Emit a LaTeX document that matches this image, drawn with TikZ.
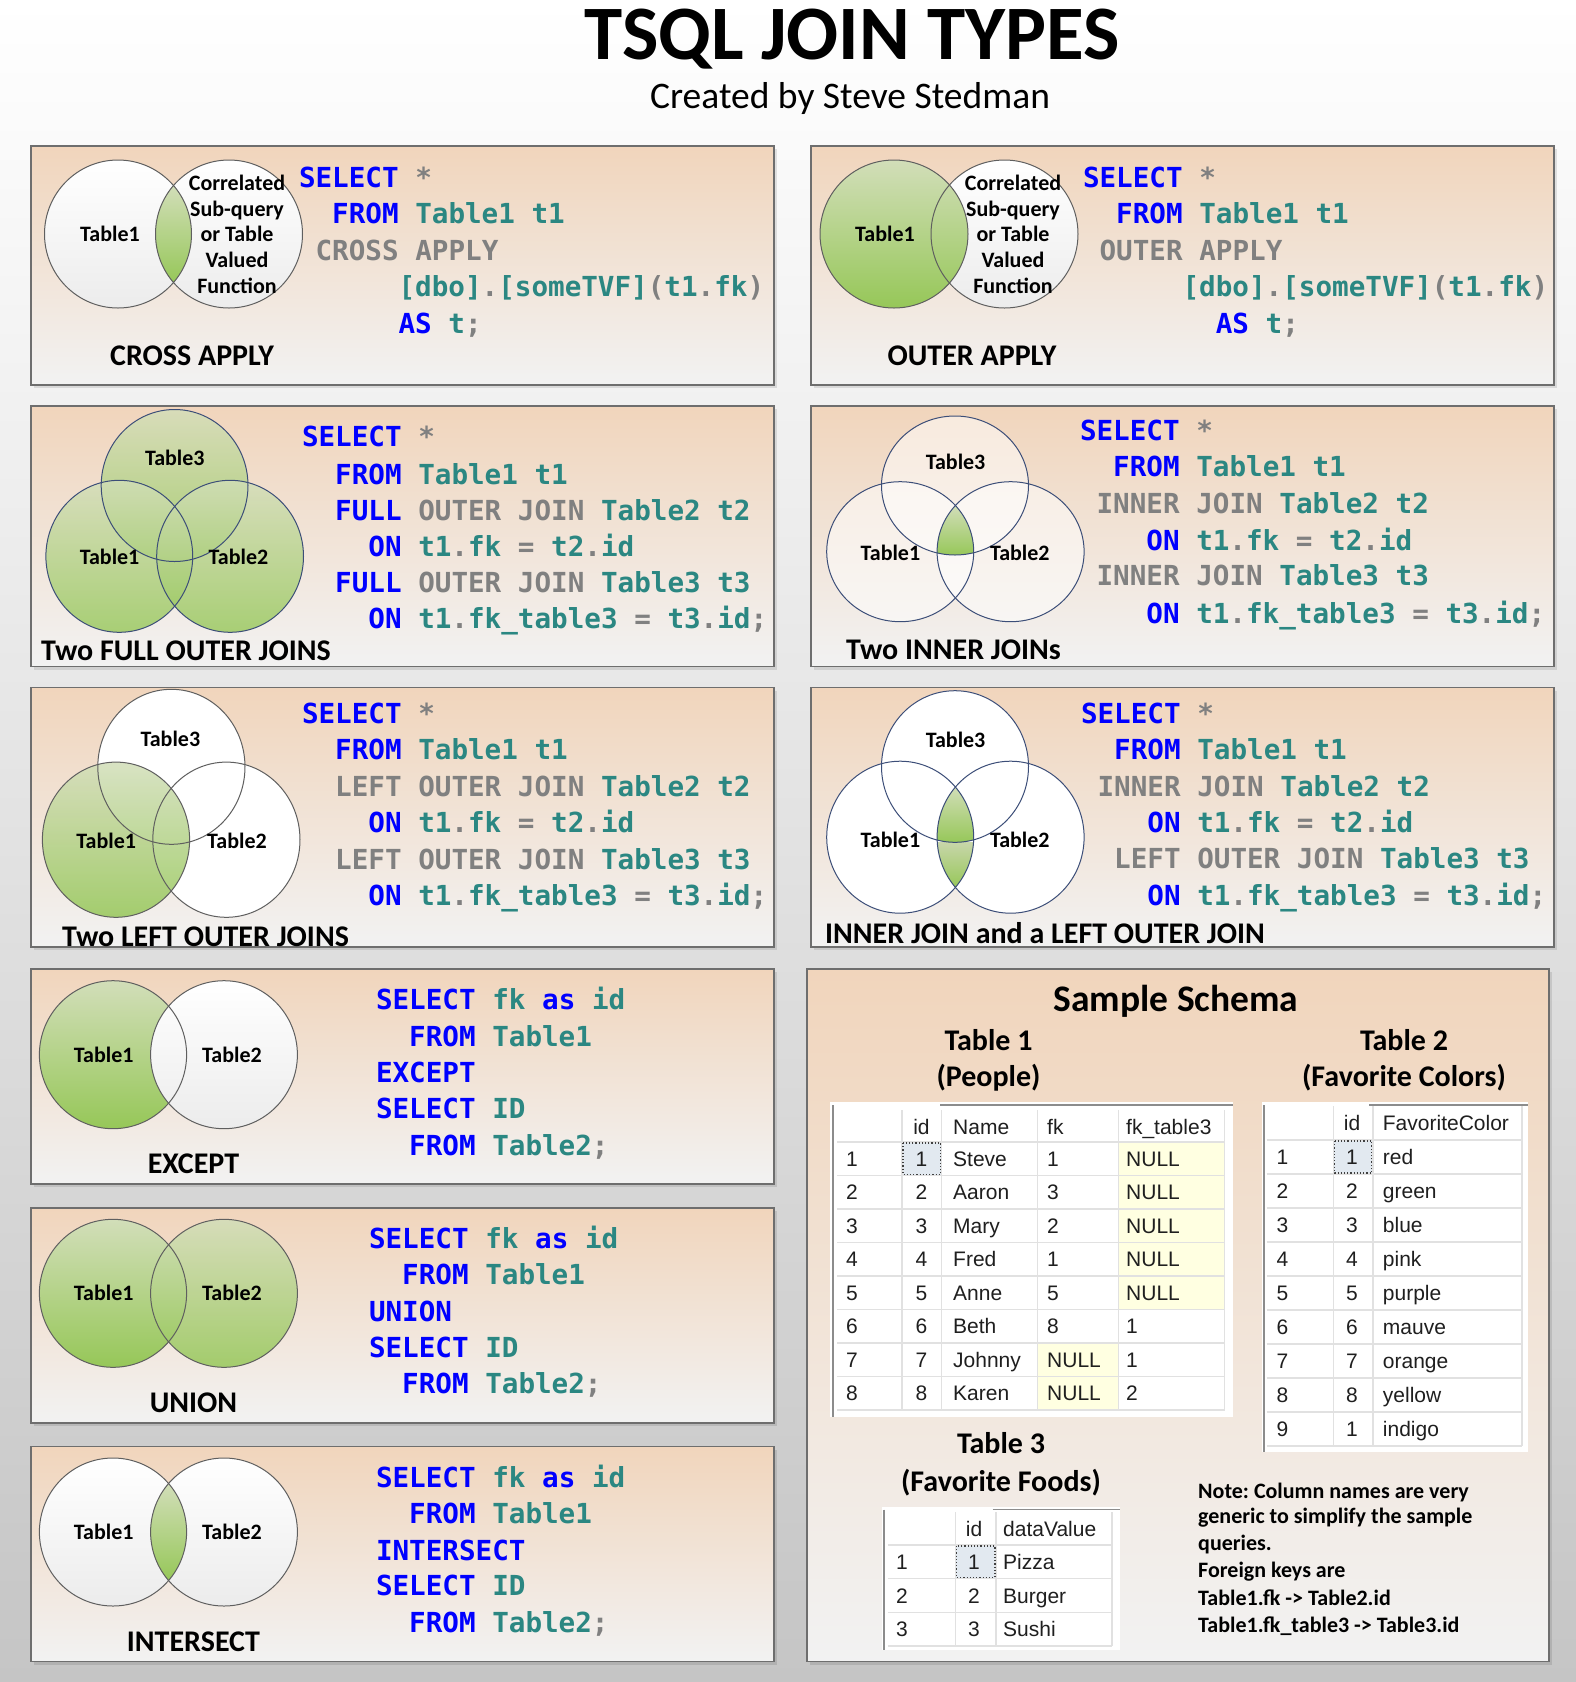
\documentclass[tikz,border=0pt]{standalone}
\usepackage{fontspec}
\setmainfont{Carlito}
\newfontfamily\codefont{DejaVu Sans Mono}
\newfontfamily\gridfont{Liberation Sans}
\frenchspacing
\definecolor{kwblue}{RGB}{0,0,255}
\definecolor{tealc}{RGB}{43,135,130}
\definecolor{grayc}{RGB}{128,128,128}
\definecolor{peach}{RGB}{241,213,188}
\definecolor{panelbot}{RGB}{242,242,242}
\definecolor{pborder}{RGB}{110,110,110}
\definecolor{gtop}{RGB}{210,222,185}
\definecolor{gbot}{RGB}{150,199,88}
\definecolor{gmid}{RGB}{200,214,170}
\definecolor{wbot}{RGB}{236,236,236}
\definecolor{navy}{RGB}{60,78,120}
\definecolor{ringgray}{RGB}{95,95,95}
\definecolor{gridline}{RGB}{225,225,225}
\definecolor{nullyel}{RGB}{255,255,225}
\definecolor{selcell}{RGB}{226,233,240}
\definecolor{bgmid}{RGB}{234,234,234}
\definecolor{bgbot}{RGB}{197,197,197}
\newcommand\kw[1]{\textcolor{kwblue}{#1}}
\newcommand\tb[1]{\textcolor{tealc}{#1}}
\newcommand\gr[1]{\textcolor{grayc}{#1}}
\newcommand\cw{16.6}
\newcommand\codeln[5]{\node[codeline] (#1) at ({#2+#4*\cw},{#3+10}) {#5};}
\newcommand\panelbox[4]{%
  \fill[black,opacity=0.10] (#1+3,#2+3) rectangle (#3+3,#4+3);
  \shade[top color=peach,bottom color=panelbot] (#1,#2) rectangle (#3,#4);
  \draw[pborder,line width=1.3pt] (#1,#2) rectangle (#3,#4);}
\tikzset{
  codeline/.style={anchor=base west, inner sep=0pt, outer sep=0pt, font=\codefont\bfseries\fontsize{27.6}{30}\selectfont},
  vlabel/.style={anchor=base, inner sep=0pt, font=\bfseries\fontsize{22}{24}\selectfont},
  plabel/.style={anchor=base, inner sep=0pt, font=\bfseries\fontsize{30}{32}\selectfont},
  note/.style={anchor=base west, inner sep=0pt, font=\bfseries\fontsize{22}{24}\selectfont},
  gcell/.style={anchor=base west, inner sep=0pt, font=\gridfont\fontsize{21}{23}\selectfont, text=black!88},
  gcellc/.style={gcell, anchor=base},
  greenfill/.style={top color=gtop, bottom color=gbot},
  whitefill/.style={top color=white, bottom color=wbot},
  ring/.style={draw=ringgray, line width=1pt},
  navyring/.style={draw=navy, line width=1pt},
  gline/.style={draw=gridline, line width=1.5pt},
  gedge/.style={draw=black!45, line width=1.8pt},
}
\begin{document}
\begin{tikzpicture}[x=1pt,y=-1pt]
\useasboundingbox (0,0) rectangle (1576,1682);
\shade[top color=white, middle color=bgmid, bottom color=bgbot] (0,0) rectangle (1576,1682);

% title
\node[anchor=base, inner sep=0pt, font=\bfseries\fontsize{77}{80}\selectfont] (title) at (852,59) {TSQL JOIN TYPES};
\node[anchor=base, inner sep=0pt, font=\fontsize{37.5}{40}\selectfont] (subtitle) at (850,108) {Created by Steve Stedman};

% ---------- panel 1 : CROSS APPLY
\panelbox{31}{146}{774}{385}
\shade[whitefill] (118,234) ellipse [x radius=73.5, y radius=74];
\shade[whitefill] (229,234) ellipse [x radius=73.5, y radius=74];
\begin{scope}
  \clip (118,234) ellipse [x radius=73.5, y radius=74];
  \clip (229,234) ellipse [x radius=73.5, y radius=74];
  \shade[greenfill] (140,185) rectangle (210,283);
\end{scope}
\draw[ring] (118,234) ellipse [x radius=73.5, y radius=74];
\draw[ring] (229,234) ellipse [x radius=73.5, y radius=74];
\node[vlabel] (p1t1) at (110,241.1) {Table1};
\node[vlabel] (p1s1) at (237,190.1) {Correlated};
\node[vlabel] (p1s2) at (237,216.1) {Sub-query};
\node[vlabel] (p1s3) at (237,241.6) {or Table};
\node[vlabel] (p1s4) at (237,267.3) {Valued};
\node[vlabel] (p1s5) at (237,293.1) {Function};
\node[plabel] (p1lab) at (192,365.7) {CROSS APPLY};
\codeln{p1c1}{299}{177}{0}{\kw{SELECT} \gr{*}}
\codeln{p1c2}{299}{213.3}{2}{\kw{FROM} \tb{Table1 t1}}
\codeln{p1c3}{299}{250}{1}{\gr{CROSS APPLY}}
\codeln{p1c4}{299}{286.7}{6}{\tb{[dbo]}\gr{.}\tb{[someTVF]}\gr{(}\tb{t1}\gr{.}\tb{fk}\gr{)}}
\codeln{p1c5}{299}{323.3}{6}{\kw{AS} \tb{t}\gr{;}}

% ---------- panel 2 : OUTER APPLY
\panelbox{811}{146}{1554}{385}
\shade[whitefill] (1004.5,234) ellipse [x radius=73.5, y radius=74];
\shade[greenfill] (894,234) ellipse [x radius=74, y radius=74];
\draw[ring] (894,234) ellipse [x radius=74, y radius=74];
\draw[ring] (1004.5,234) ellipse [x radius=73.5, y radius=74];
\node[vlabel] (p2t1) at (885,241.1) {Table1};
\node[vlabel] (p2s1) at (1013,190.1) {Correlated};
\node[vlabel] (p2s2) at (1013,216.1) {Sub-query};
\node[vlabel] (p2s3) at (1013,241.6) {or Table};
\node[vlabel] (p2s4) at (1013,267.3) {Valued};
\node[vlabel] (p2s5) at (1013,293.1) {Function};
\node[plabel] (p2lab) at (972,365.7) {OUTER APPLY};
\codeln{p2c1}{1083}{177.3}{0}{\kw{SELECT} \gr{*}}
\codeln{p2c2}{1083}{213.3}{2}{\kw{FROM} \tb{Table1 t1}}
\codeln{p2c3}{1083}{250}{1}{\gr{OUTER APPLY}}
\codeln{p2c4}{1083}{286.7}{6}{\tb{[dbo]}\gr{.}\tb{[someTVF]}\gr{(}\tb{t1}\gr{.}\tb{fk}\gr{)}}
\codeln{p2c5}{1083}{323.3}{8}{\kw{AS} \tb{t}\gr{;}}

% ---------- panel 3 : Two FULL OUTER JOINS
\panelbox{31}{406}{774}{666.5}
\shade[greenfill, fill opacity=0.8] (174.6,485.5) ellipse [x radius=73.4, y radius=76];
\shade[greenfill, fill opacity=0.8] (119.3,556.3) ellipse [x radius=73.4, y radius=76];
\shade[greenfill, fill opacity=0.8] (230.1,556.3) ellipse [x radius=73.4, y radius=76];
\draw[navyring] (174.6,485.5) ellipse [x radius=73.4, y radius=76];
\draw[navyring] (119.3,556.3) ellipse [x radius=73.4, y radius=76];
\draw[navyring] (230.1,556.3) ellipse [x radius=73.4, y radius=76];
\node[vlabel] (p3t3) at (174.8,465.4) {Table3};
\node[vlabel] (p3t1) at (109.6,564.4) {Table1};
\node[vlabel] (p3t2) at (238.5,564.4) {Table2};
\node[plabel] (p3lab) at (186,660.4) {Two FULL OUTER JOINS};
\codeln{p3c1}{302}{436.7}{0}{\kw{SELECT} \gr{*}}
\codeln{p3c2}{302}{474}{2}{\kw{FROM} \tb{Table1 t1}}
\codeln{p3c3}{302}{510}{2}{\kw{FULL} \gr{OUTER JOIN} \tb{Table2 t2}}
\codeln{p3c4}{302}{546.7}{4}{\kw{ON} \tb{t1}\gr{.}\tb{fk} \gr{=} \tb{t2}\gr{.}\tb{id}}
\codeln{p3c5}{302}{582.7}{2}{\kw{FULL} \gr{OUTER JOIN} \tb{Table3 t3}}
\codeln{p3c6}{302}{618.3}{4}{\kw{ON} \tb{t1}\gr{.}\tb{fk\_table3} \gr{=} \tb{t3}\gr{.}\tb{id}\gr{;}}

% ---------- panel 4 : Two INNER JOINs
\panelbox{811}{406}{1554}{666.5}
\fill[white, fill opacity=0.5] (955,485.5) ellipse [x radius=73.5, y radius=69.5];
\fill[white, fill opacity=0.5] (900.2,551.7) ellipse [x radius=73.5, y radius=70];
\fill[white, fill opacity=0.5] (1010.6,551.7) ellipse [x radius=73.5, y radius=70];
\begin{scope}
  \clip (900.2,551.7) ellipse [x radius=73.5, y radius=70];
  \clip (1010.6,551.7) ellipse [x radius=73.5, y radius=70];
  \clip (955,485.5) ellipse [x radius=73.5, y radius=69.5];
  \shade[greenfill] (900,505) rectangle (1012,556);
\end{scope}
\draw[navyring] (955,485.5) ellipse [x radius=73.5, y radius=69.5];
\draw[navyring] (900.2,551.7) ellipse [x radius=73.5, y radius=70];
\draw[navyring] (1010.6,551.7) ellipse [x radius=73.5, y radius=70];
\node[vlabel] (p4t3) at (955.6,469.1) {Table3};
\node[vlabel] (p4t1) at (890.4,560.4) {Table1};
\node[vlabel] (p4t2) at (1019.8,560.4) {Table2};
\node[plabel] (p4lab) at (953.5,659.7) {Two INNER JOINs};
\codeln{p4c1}{1080}{430.7}{0}{\kw{SELECT} \gr{*}}
\codeln{p4c2}{1080}{466.7}{2}{\kw{FROM} \tb{Table1 t1}}
\codeln{p4c3}{1080}{503.3}{1}{\gr{INNER JOIN} \tb{Table2 t2}}
\codeln{p4c4}{1080}{540}{4}{\kw{ON} \tb{t1}\gr{.}\tb{fk} \gr{=} \tb{t2}\gr{.}\tb{id}}
\codeln{p4c5}{1080}{575.7}{1}{\gr{INNER JOIN} \tb{Table3 t3}}
\codeln{p4c6}{1080}{613.3}{4}{\kw{ON} \tb{t1}\gr{.}\tb{fk\_table3} \gr{=} \tb{t3}\gr{.}\tb{id}\gr{;}}

% ---------- panel 5 : Two LEFT OUTER JOINS
\panelbox{31}{687.5}{774}{947}
\fill[white] (171.4,766.8) ellipse [x radius=73.6, y radius=77.5];
\fill[white] (226.4,839.7) ellipse [x radius=73.6, y radius=77.6];
\shade[greenfill, fill opacity=0.85] (116,839.7) ellipse [x radius=73.6, y radius=77.6];
\draw[ring] (171.4,766.8) ellipse [x radius=73.6, y radius=77.5];
\draw[ring] (116,839.7) ellipse [x radius=73.6, y radius=77.6];
\draw[ring] (226.4,839.7) ellipse [x radius=73.6, y radius=77.6];
\node[vlabel] (p5t3) at (170.4,746.4) {Table3};
\node[vlabel] (p5t1) at (106.2,848.4) {Table1};
\node[vlabel] (p5t2) at (237,848.4) {Table2};
\node[plabel] (p5lab) at (205.5,946) {Two LEFT OUTER JOINS};
\codeln{p5c1}{302}{713.3}{0}{\kw{SELECT} \gr{*}}
\codeln{p5c2}{302}{749.3}{2}{\kw{FROM} \tb{Table1 t1}}
\codeln{p5c3}{302}{786}{2}{\gr{LEFT OUTER JOIN} \tb{Table2 t2}}
\codeln{p5c4}{302}{822.3}{4}{\kw{ON} \tb{t1}\gr{.}\tb{fk} \gr{=} \tb{t2}\gr{.}\tb{id}}
\codeln{p5c5}{302}{859}{2}{\gr{LEFT OUTER JOIN} \tb{Table3 t3}}
\codeln{p5c6}{302}{895.7}{4}{\kw{ON} \tb{t1}\gr{.}\tb{fk\_table3} \gr{=} \tb{t3}\gr{.}\tb{id}\gr{;}}

% ---------- panel 6 : INNER JOIN and a LEFT OUTER JOIN
\panelbox{811}{687.5}{1554}{947}
\fill[white] (955,766.5) ellipse [x radius=73.5, y radius=75.8];
\fill[white] (900.2,837.2) ellipse [x radius=73.5, y radius=76];
\fill[white] (1010.6,837.2) ellipse [x radius=73.5, y radius=76];
\begin{scope}
  \clip (900.2,837.2) ellipse [x radius=73.5, y radius=76];
  \clip (1010.6,837.2) ellipse [x radius=73.5, y radius=76];
  \shade[top color=gmid, bottom color=gbot] (900,842) rectangle (1012,888);
  \clip (955,766.5) ellipse [x radius=73.5, y radius=75.8];
  \shade[greenfill] (900,786) rectangle (1012,843);
\end{scope}
\draw[navyring] (955,766.5) ellipse [x radius=73.5, y radius=75.8];
\draw[navyring] (900.2,837.2) ellipse [x radius=73.5, y radius=76];
\draw[navyring] (1010.6,837.2) ellipse [x radius=73.5, y radius=76];
\node[vlabel] (p6t3) at (955.6,747.1) {Table3};
\node[vlabel] (p6t1) at (890.4,847.1) {Table1};
\node[vlabel] (p6t2) at (1019.8,847.1) {Table2};
\node[plabel] (p6lab) at (1045,943.7) {INNER JOIN and a LEFT OUTER JOIN};
\codeln{p6c1}{1081}{713.3}{0}{\kw{SELECT} \gr{*}}
\codeln{p6c2}{1081}{749.3}{2}{\kw{FROM} \tb{Table1 t1}}
\codeln{p6c3}{1081}{786.7}{1}{\gr{INNER JOIN} \tb{Table2 t2}}
\codeln{p6c4}{1081}{822.7}{4}{\kw{ON} \tb{t1}\gr{.}\tb{fk} \gr{=} \tb{t2}\gr{.}\tb{id}}
\codeln{p6c5}{1081}{858.3}{2}{\gr{LEFT OUTER JOIN} \tb{Table3 t3}}
\codeln{p6c6}{1081}{895}{4}{\kw{ON} \tb{t1}\gr{.}\tb{fk\_table3} \gr{=} \tb{t3}\gr{.}\tb{id}\gr{;}}

% ---------- panel 7 : EXCEPT
\panelbox{31}{969}{774}{1184}
\shade[greenfill] (113,1054.7) ellipse [x radius=73.6, y radius=74];
\shade[whitefill] (224,1054.7) ellipse [x radius=73.4, y radius=74];
\draw[ring] (113,1054.7) ellipse [x radius=73.6, y radius=74];
\draw[ring] (224,1054.7) ellipse [x radius=73.4, y radius=74];
\node[vlabel] (p7t1) at (103.7,1062.1) {Table1};
\node[vlabel] (p7t2) at (232,1062.1) {Table2};
\node[plabel] (p7lab) at (193.5,1173.7) {EXCEPT};
\codeln{p7c1}{376}{999.3}{0}{\kw{SELECT} \tb{fk} \kw{as} \tb{id}}
\codeln{p7c2}{376}{1036}{2}{\kw{FROM} \tb{Table1}}
\codeln{p7c3}{376}{1072}{0}{\kw{EXCEPT}}
\codeln{p7c4}{376}{1108}{0}{\kw{SELECT} \tb{ID}}
\codeln{p7c5}{376}{1145}{2}{\kw{FROM} \tb{Table2}\gr{;}}

% ---------- panel 8 : UNION
\panelbox{31}{1208}{774}{1423}
\shade[greenfill] (113,1293.3) ellipse [x radius=73.6, y radius=74];
\shade[greenfill, fill opacity=0.85] (224,1293.3) ellipse [x radius=73.4, y radius=74];
\draw[ring] (113,1293.3) ellipse [x radius=73.6, y radius=74];
\draw[ring] (224,1293.3) ellipse [x radius=73.4, y radius=74];
\node[vlabel] (p8t1) at (103.7,1300.4) {Table1};
\node[vlabel] (p8t2) at (232,1300.4) {Table2};
\node[plabel] (p8lab) at (193.5,1412.4) {UNION};
\codeln{p8c1}{369}{1238.3}{0}{\kw{SELECT} \tb{fk} \kw{as} \tb{id}}
\codeln{p8c2}{369}{1274}{2}{\kw{FROM} \tb{Table1}}
\codeln{p8c3}{369}{1311.7}{0}{\kw{UNION}}
\codeln{p8c4}{369}{1347}{0}{\kw{SELECT} \tb{ID}}
\codeln{p8c5}{369}{1383}{2}{\kw{FROM} \tb{Table2}\gr{;}}

% ---------- panel 9 : INTERSECT
\panelbox{31}{1446.5}{774}{1661.5}
\shade[whitefill] (113,1532) ellipse [x radius=73.6, y radius=74];
\shade[whitefill] (224,1532) ellipse [x radius=73.4, y radius=74];
\begin{scope}
  \clip (113,1532) ellipse [x radius=73.6, y radius=74];
  \clip (224,1532) ellipse [x radius=73.4, y radius=74];
  \shade[greenfill] (140,1483) rectangle (200,1581);
\end{scope}
\draw[ring] (113,1532) ellipse [x radius=73.6, y radius=74];
\draw[ring] (224,1532) ellipse [x radius=73.4, y radius=74];
\node[vlabel] (p9t1) at (103.7,1539.1) {Table1};
\node[vlabel] (p9t2) at (232,1539.1) {Table2};
\node[plabel] (p9lab) at (193.5,1651.4) {INTERSECT};
\codeln{p9c1}{376}{1477.3}{0}{\kw{SELECT} \tb{fk} \kw{as} \tb{id}}
\codeln{p9c2}{376}{1513.3}{2}{\kw{FROM} \tb{Table1}}
\codeln{p9c3}{376}{1550}{0}{\kw{INTERSECT}}
\codeln{p9c4}{376}{1585.7}{0}{\kw{SELECT} \tb{ID}}
\codeln{p9c5}{376}{1622.3}{2}{\kw{FROM} \tb{Table2}\gr{;}}

% ---------- Sample schema
\panelbox{807}{969}{1549}{1661.5}
\node[anchor=base, inner sep=0pt, font=\bfseries\fontsize{37.5}{40}\selectfont] (schema) at (1176,1011) {Sample Schema};
\node[plabel] (tab1a) at (988.5,1050.7) {Table 1};
\node[plabel] (tab1b) at (988.5,1086.4) {(People)};
\node[plabel] (tab2a) at (1404,1050.7) {Table 2};
\node[plabel] (tab2b) at (1404,1086.7) {(Favorite Colors)};
\node[plabel] (tab3a) at (1001,1453) {Table 3};
\node[plabel] (tab3b) at (1001,1491.4) {(Favorite Foods)};

% Table 1 grid
\fill[white] (830,1102) rectangle (1233,1417);
\fill[nullyel] (1118.5,1142) rectangle (1224.7,1309.5);
\fill[nullyel] (1037.5,1343) rectangle (1118.5,1410);
\fill[selcell] (902,1142) rectangle (941.7,1175.5);
\foreach \yy in {1142,1175.5,1209,1242.5,1276,1309.5,1343,1376.5,1410}
  \draw[gline] (837,\yy) -- (1224.7,\yy);
\foreach \xx in {902,941.7,1037.5,1118.5,1224.7}
  \draw[gline] (\xx,1110) -- (\xx,1410);
\draw[black!75, dotted, line width=1.2pt] (903,1143) rectangle (940.7,1174.5);
\draw[gedge] (940,1105) -- (1233,1105);
\draw[gedge] (833,1105) -- (833,1417);
\node[gcellc] (t1hid) at (921.5,1134.2) {id};
\node[gcell] (t1hname) at (953,1134.2) {Name};
\node[gcell] (t1hfk) at (1047,1134.2) {fk};
\node[gcell] (t1hft) at (1126,1134.2) {fk\_table3};
\foreach \nm/\fk/\ft [count=\i] in {Steve/1/NULL, Aaron/3/NULL, Mary/2/NULL, Fred/1/NULL, Anne/5/NULL, Beth/8/1, Johnny/NULL/1, Karen/NULL/2}{
  \pgfmathsetmacro\yb{1142+33.5*(\i-0.5)+7.5}
  \node[gcell] (t1n\i) at (846,\yb) {\i};
  \node[gcellc] (t1i\i) at (921.5,\yb) {\i};
  \node[gcell] (t1m\i) at (953,\yb) {\nm};
  \node[gcell] (t1f\i) at (1047,\yb) {\fk};
  \node[gcell] (t1g\i) at (1126,\yb) {\ft};
}

% Table 2 grid
\fill[white] (1262,1102) rectangle (1527.5,1451.7);
\fill[selcell] (1333.3,1140) rectangle (1372.8,1174);
\foreach \yy in {1140,1174,1208,1242,1276,1310,1344,1378,1412,1446}
  \draw[gline] (1266.7,\yy) -- (1522,\yy);
\foreach \xx in {1333.3,1372.8,1522}
  \draw[gline] (\xx,1106) -- (\xx,1446);
\draw[black!75, dotted, line width=1.2pt] (1334.3,1141) rectangle (1371.8,1173);
\draw[gedge] (1369,1105) -- (1527.5,1105);
\draw[gedge] (1264,1105) -- (1264,1451.7);
\node[gcellc] (t2hid) at (1352,1130.8) {id};
\node[gcell] (t2hcol) at (1382.7,1130.8) {FavoriteColor};
\foreach \idv/\col [count=\i] in {1/red, 2/green, 3/blue, 4/pink, 5/purple, 6/mauve, 7/orange, 8/yellow, 1/indigo}{
  \pgfmathsetmacro\yb{1140+34*(\i-0.5)+7.5}
  \node[gcell] (t2n\i) at (1276.5,\yb) {\i};
  \node[gcellc] (t2i\i) at (1352,\yb) {\idv};
  \node[gcell] (t2c\i) at (1382.7,\yb) {\col};
}

% Table 3 grid
\fill[white] (882,1506.7) rectangle (1119.5,1650);
\fill[selcell] (955.6,1545) rectangle (996,1578.7);
\foreach \yy in {1545,1578.7,1612.4,1646.1}
  \draw[gline] (887.9,\yy) -- (1112,\yy);
\foreach \xx in {955.6,996,1112}
  \draw[gline] (\xx,1512) -- (\xx,1646.1);
\draw[black!75, dotted, line width=1.2pt] (956.6,1546) rectangle (995,1577.7);
\draw[gedge] (992.6,1509.5) -- (1119.5,1509.5);
\draw[gedge] (884,1509.5) -- (884,1650);
\node[gcellc] (t3hid) at (974,1536.5) {id};
\node[gcell] (t3hval) at (1003,1536.5) {dataValue};
\foreach \dv [count=\i] in {Pizza, Burger, Sushi}{
  \pgfmathsetmacro\yb{1545+33.7*(\i-0.5)+7.5}
  \node[gcell] (t3n\i) at (896,\yb) {\i};
  \node[gcellc] (t3i\i) at (974,\yb) {\i};
  \node[gcell] (t3v\i) at (1003,\yb) {\dv};
}

% note
\node[note] (note1) at (1198,1498.8) {Note: Column names are very};
\node[note] (note2) at (1198,1523.8) {generic to simplify the sample};
\node[note] (note3) at (1198,1550.4) {queries.};
\node[note] (note4) at (1198,1577.1) {Foreign keys are};
\node[note] (note5) at (1198,1605.4) {Table1.fk -> Table2.id};
\node[note] (note6) at (1198,1632.1) {Table1.fk\_table3 -> Table3.id};
\end{tikzpicture}
\end{document}
